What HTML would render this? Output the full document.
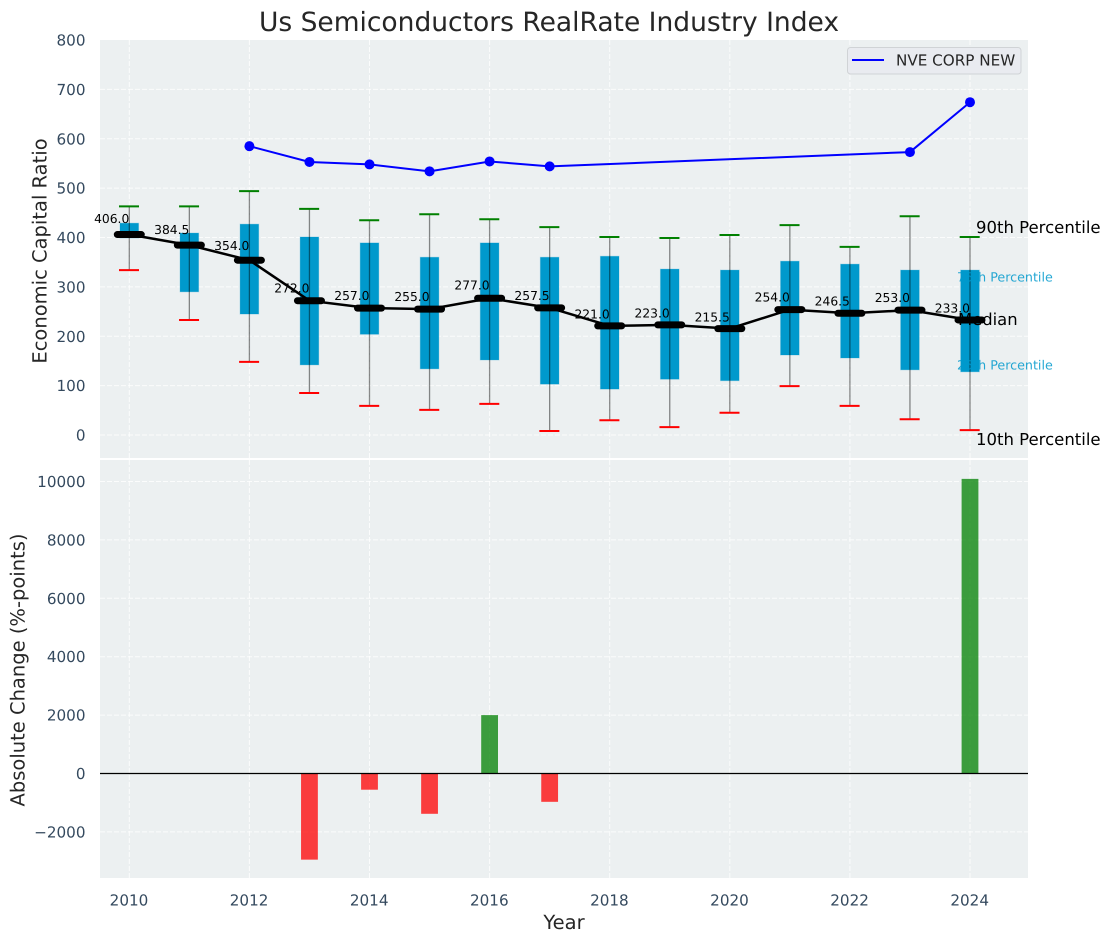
<!DOCTYPE html>
<html>
<head>
<meta charset="utf-8">
<title>Us Semiconductors RealRate Industry Index</title>
<style>
html,body{margin:0;padding:0;background:#fff;width:1111px;height:942px;overflow:hidden}
svg{display:block;font-family:"DejaVu Sans","Liberation Sans",sans-serif;text-rendering:geometricPrecision}
</style>
</head>
<body>
<svg id="chart" xmlns="http://www.w3.org/2000/svg" width="1111" height="942" viewBox="0 0 1111 942">
  <text x="549" y="31" text-anchor="middle" font-size="26.5" fill="#262626">Us Semiconductors RealRate Industry Index</text>
  <rect x="100" y="40" width="928" height="418" fill="#ecf0f1"/>
  <rect x="100" y="460" width="928" height="418" fill="#ecf0f1"/>
  <g id="grid"></g>
  <g id="bars"></g>
  <g id="boxes"></g>
  <g id="lines"></g>
  <g id="labels"></g>
  <g id="ticks"></g>
  <text x="46.5" y="251" transform="rotate(-90 46.5 251)" text-anchor="middle" font-size="19.5" fill="#262626">Economic Capital Ratio</text>
  <text x="24.5" y="670" transform="rotate(-90 24.5 670)" text-anchor="middle" font-size="19.5" fill="#262626">Absolute Change (%-points)</text>
  <text x="564" y="929" text-anchor="middle" font-size="19.5" fill="#262626">Year</text>
  <text x="976" y="233" font-size="16.5" fill="#000">90th Percentile</text>
  <text x="957" y="281.5" font-size="12.7" fill="#0099cc" fill-opacity="0.85">75th Percentile</text>
  <text x="958" y="325" font-size="16.4" fill="#000">Median</text>
  <text x="957" y="369.5" font-size="12.7" fill="#0099cc" fill-opacity="0.85">25th Percentile</text>
  <text x="976" y="445" font-size="16.5" fill="#000">10th Percentile</text>
  <g>
    <rect x="847.5" y="47.5" width="173.5" height="26.5" rx="3" fill="#e9ebf0" stroke="#d0d3d6"/>
    <line x1="852" y1="60" x2="884" y2="60" stroke="#0000ff" stroke-width="2"/>
    <text x="896" y="65.5" font-size="15.2" fill="#262626">NVE CORP NEW</text>
  </g>
</svg>
<script>
var years = [2010,2011,2012,2013,2014,2015,2016,2017,2018,2019,2020,2021,2022,2023,2024];
var p90 = [463,463,494,458,435,447,437,421,401,399,405,425,381,443,401];
var p75 = [429,409,427,401,389,360,389,360,362,336,334,352,346,334,334];
var medians = [406,384.5,354,272,257,255,277,257.5,221,223,215.5,254,246.5,253,233];
var p25 = [399,290,245,142,204,134,152,103,93,113,110,162,156,132,128];
var p10 = [334,233,148,85,59,51,63,8,30,16,45,99,59,32,10];
var companyYears = [2012,2013,2014,2015,2016,2017,2023,2024];
var companyValues = [585,553,548,534,554,544,573,674];
var changeYears = [2013,2014,2015,2016,2017,2024];
var changeValues = [-2950,-555,-1380,2000,-970,10090];
var topTicks = [0,100,200,300,400,500,600,700,800];
var bottomTicks = [-2000,0,2000,4000,6000,8000,10000];
var yearTicks = [2010,2012,2014,2016,2018,2020,2022,2024];

var NS = 'http://www.w3.org/2000/svg';
function x(year){ return 129.3 + (year - 2010) * 60.05; }
function yTop(v){ return 435 - v * 0.49375; }
function yBottom(v){ return 773.5 - v * 0.0292; }
function make(parent, tag, attrs, text){
  var el = document.createElementNS(NS, tag);
  for (var k in attrs) el.setAttribute(k, attrs[k]);
  if (text !== undefined) el.textContent = text;
  document.getElementById(parent).appendChild(el);
  return el;
}
var el, i;
var gridStyle = {stroke:'#ffffff', 'stroke-width':1, 'stroke-dasharray':'5 2', 'stroke-opacity':0.8};
function gridLine(x1,y1,x2,y2){
  var a = {x1:x1,y1:y1,x2:x2,y2:y2};
  for (var k in gridStyle) a[k] = gridStyle[k];
  return make('grid','line',a);
}
topTicks.forEach(function(t){
  if (t === 800) return;
  el = gridLine(100,yTop(t),1028,yTop(t));
  
  
});
bottomTicks.forEach(function(t){
  el = gridLine(100,yBottom(t),1028,yBottom(t));
  
  
});
yearTicks.forEach(function(t){
  el = gridLine(x(t),40,x(t),458);
  
  
  el = gridLine(x(t),460,x(t),878);
  
  
});

changeYears.forEach(function(yr,j){
  var v = changeValues[j];
  var top = Math.min(yBottom(v), yBottom(0));
  el = make('bars','rect',{x:x(yr)-8.4,y:top,width:16.8,height:Math.abs(yBottom(v)-yBottom(0)),fill:v<0?'#ff0000':'#008000','fill-opacity':0.75});
  
  
});
el = make('bars','line',{x1:100,y1:yBottom(0),x2:1028,y2:yBottom(0),stroke:'#000',  'stroke-width':1.2});



for (i = 0; i < years.length; i++) {
  var cx = x(years[i]);
  el = make('boxes','rect',{x:cx-9.3,y:yTop(p75[i]),width:18.6,height:yTop(p25[i])-yTop(p75[i]),fill:'#0099cc',stroke:'#0099cc','stroke-opacity':0.25,'stroke-width':1});
  
  
  el = make('boxes','line',{x1:cx,y1:yTop(p90[i]),x2:cx,y2:yTop(p10[i]),stroke:'#000','stroke-opacity':0.45,'stroke-width':1.3});
  
  
  el = make('boxes','line',{x1:cx-10.3,y1:yTop(p90[i]),x2:cx+9.7,y2:yTop(p90[i]),stroke:'#008000','stroke-width':2});
  
  
  el = make('boxes','line',{x1:cx-10.3,y1:yTop(p10[i]),x2:cx+9.7,y2:yTop(p10[i]),stroke:'#ff0000','stroke-width':2});
  
  
}

el = make('lines','polyline',{points:years.map(function(yr,j){return x(yr)+','+yTop(medians[j]);}).join(' '),fill:'none',stroke:'#000','stroke-width':2.5});


years.forEach(function(yr,j){
  el = make('lines','line',{x1:x(yr)-12,y1:yTop(medians[j]),x2:x(yr)+12,y2:yTop(medians[j]),stroke:'#000','stroke-width':7,'stroke-linecap':'round'});
  
  
  el = make('labels','text',{x:x(yr),y:yTop(medians[j]*1.05)-1.7,'text-anchor':'end','font-size':12.3,fill:'#000'},medians[j].toFixed(1));
  
  
});

el = make('lines','polyline',{points:companyYears.map(function(yr,j){return x(yr)+','+yTop(companyValues[j]);}).join(' '),fill:'none',stroke:'#0000ff','stroke-width':2});


companyYears.forEach(function(yr,j){
  el = make('lines','circle',{cx:x(yr),cy:yTop(companyValues[j]),r:5,fill:'#0000ff'});
  
  
});

var tickColor = '#34495e';
topTicks.forEach(function(t){
  el = make('ticks','text',{x:85.5,y:yTop(t)+5.5,'text-anchor':'end','font-size':15.2,fill:tickColor},String(t));
  
  
});
bottomTicks.forEach(function(t){
  el = make('ticks','text',{x:85.5,y:yBottom(t)+5.5,'text-anchor':'end','font-size':15.2,fill:tickColor},String(t).replace('-','\u2212'));
  
  
});
yearTicks.forEach(function(t){
  el = make('ticks','text',{x:x(t)-0.3,y:905.5,'text-anchor':'middle','font-size':15.2,fill:tickColor},String(t));
  
  
});
</script>
</body>
</html>
